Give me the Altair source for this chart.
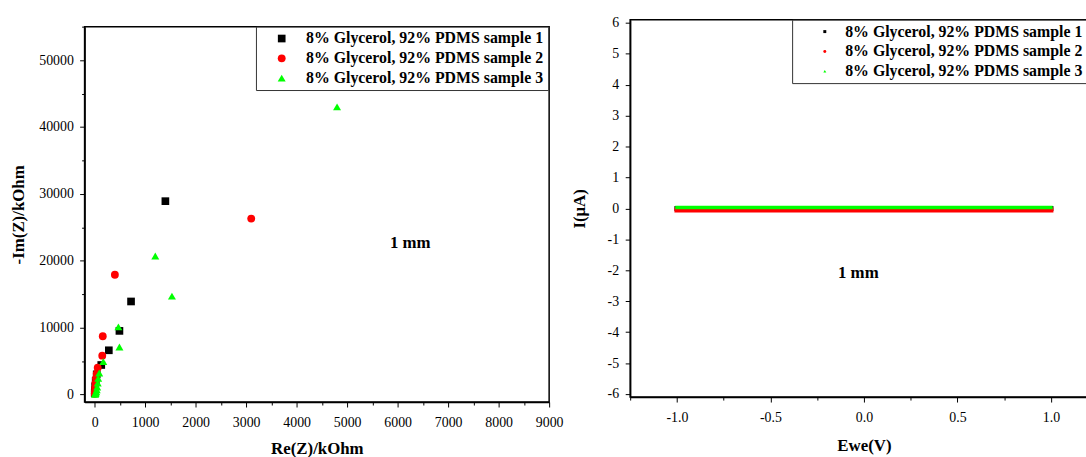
import altair as alt
import pandas as pd

SERIES = ["8% Glycerol, 92% PDMS sample 1",
          "8% Glycerol, 92% PDMS sample 2",
          "8% Glycerol, 92% PDMS sample 3"]
COLORS = ["#000000", "#FF0000", "#00FF00"]
SHAPES = ["square", "circle", "triangle-up"]
SIZES = [60, 65, 105]

# Nyquist data (kOhm)
re_s1 = [1400, 720, 490, 280, 130, 40, 20, 10, 4, 1]
im_s1 = [28900, 13900, 9500, 6600, 4400, 3000, 2000, 1200, 600, 200]
re_s2 = [3100, 400, 160, 150, 60, 40, 25, 15, 8, 3, 1]
im_s2 = [26300, 17900, 8700, 5800, 4000, 3100, 2400, 1700, 1000, 400, 100]
re_s3 = [4800, 1530, 1200, 490, 470, 170, 90, 70, 60, 50, 40, 30, 20, 10, 5]
im_s3 = [43000, 14700, 20700, 7100, 10100, 4900, 3200, 2400, 1700, 1100, 700, 400, 200, 80, 20]

# I-V data
ewe = [-1.0, -0.5, 0.0, 0.5, 1.0]
i_s1 = [0.0, 0.0, 0.0, 0.0, 0.0]
i_s2 = [-0.05, -0.05, -0.05, -0.05, -0.05]
i_s3 = [0.03, 0.03, 0.03, 0.03, 0.03]

x1_ticks = list(range(0, 9001, 500))
y1_ticks = list(range(0, 55001, 5000))
x2_ticks = [-1.25, -1.0, -0.75, -0.5, -0.25, 0.0, 0.25, 0.5, 0.75, 1.0, 1.25]
y2_ticks = [v / 2 for v in range(-12, 13)]

FONT = "Liberation Serif"

nyq = pd.concat([
    pd.DataFrame({"re": r, "im": i, "series": s})
    for r, i, s in [(re_s1, im_s1, SERIES[0]), (re_s2, im_s2, SERIES[1]), (re_s3, im_s3, SERIES[2])]
], ignore_index=True)

iv = pd.concat([
    pd.DataFrame({"ewe": ewe, "i": v, "sample": s})
    for v, s in [(i_s1, SERIES[0]), (i_s2, SERIES[1]), (i_s3, SERIES[2])]
], ignore_index=True)


def axis(title, values, major_test, fmt, pad, tpad):
    return alt.Axis(
        title=title, values=values, tickCount=200, grid=False,
        labelOverlap=False, labelFlush=False,
        labelExpr=f"({major_test}) ? replace(datum.label, '\u2212', '-') : ''",
        format=fmt,
        tickSize={"condition": {"test": major_test, "value": 5}, "value": 3},
        labelFontSize={"condition": {"test": major_test, "value": 14}, "value": 0},
        labelPadding=pad, titlePadding=tpad,
        labelFont=FONT, labelColor="black",
        titleFont=FONT, titleFontSize=17, titleFontWeight="bold", titleColor="black",
        domainColor="black", domainWidth=1.5, tickColor="black", tickWidth=1,
    )


left_legend = alt.Legend(
    title=None, orient="none", legendX=173, legendY=0, padding=4,
    strokeColor="#333333", fillColor="white",
    labelFont=FONT, labelFontSize=16, labelFontWeight="bold", labelColor="black",
    labelLimit=500, symbolSize=60, symbolOffset=14, labelOffset=16.5, rowPadding=4,
    symbolStrokeWidth=0,
)

pts = alt.Chart(nyq).mark_point(filled=True, opacity=1).encode(
    x=alt.X("re:Q", scale=alt.Scale(domain=[-200, 9000], nice=False, zero=False),
            axis=axis("Re(Z)/kOhm", x1_ticks, "datum.value % 1000 === 0", "d", 9, 11)),
    y=alt.Y("im:Q", scale=alt.Scale(domain=[-1140, 55000], nice=False, zero=False),
            axis=axis("-Im(Z)/kOhm", y1_ticks, "datum.value % 10000 === 0", "d", 6.3, 11.5)),
    color=alt.Color("series:N", scale=alt.Scale(domain=SERIES, range=COLORS), legend=left_legend),
    shape=alt.Shape("series:N", scale=alt.Scale(domain=SERIES, range=SHAPES), legend=left_legend),
    size=alt.Size("series:N", scale=alt.Scale(domain=SERIES, range=SIZES), legend=None),
)

note1 = alt.Chart(pd.DataFrame({"x": [6250], "y": [22700], "t": ["1 mm"]})).mark_text(
    font=FONT, fontSize=17, fontWeight="bold", color="black"
).encode(x="x:Q", y="y:Q", text="t:N")

left_panel = alt.layer(pts, note1).properties(width=469, height=379)

# empty strip that places the left panel a few pixels lower than the right one
strip = alt.Chart(pd.DataFrame({"a": [0]})).mark_rule(opacity=0, strokeWidth=0.1).encode(
    x=alt.value(1), y=alt.value(1), y2=alt.value(2)
).properties(width=469, height=4, view=alt.ViewBackground(stroke="transparent"))

left = alt.vconcat(strip, left_panel, spacing=0).resolve_scale(
    color="independent", shape="independent", size="independent"
).resolve_legend(color="independent", shape="independent")

right_legend = alt.Legend(
    title=None, orient="none", legendX=163.5, legendY=0, padding=4,
    strokeColor="#333333", fillColor="white",
    labelFont=FONT, labelFontSize=16, labelFontWeight="bold", labelColor="black",
    labelLimit=500, symbolSize=9, symbolOffset=21, labelOffset=12.6, rowPadding=4,
    symbolStrokeWidth=0,
)

xr = alt.X("ewe:Q", scale=alt.Scale(domain=[-1.25, 1.25], nice=False, zero=False),
           axis=axis("Ewe(V)", x2_ticks, "abs(datum.value*2 - round(datum.value*2)) < 1e-6", ".1f", 9, 13))
yr = alt.Y("i:Q", scale=alt.Scale(domain=[-6.1, 6.1], nice=False, zero=False),
           axis=axis("I(\u03bcA)", y2_ticks, "abs(datum.value - round(datum.value)) < 1e-6", "d", 6.6, 19))

iv_pts = alt.Chart(iv).mark_point(filled=True, size=9, opacity=1).encode(
    x=xr, y=yr,
    color=alt.Color("sample:N", scale=alt.Scale(domain=SERIES, range=COLORS), legend=right_legend),
    shape=alt.Shape("sample:N", scale=alt.Scale(domain=SERIES, range=SHAPES), legend=right_legend),
)

iv_lines = alt.Chart(iv).mark_line(strokeCap="square").encode(
    x=xr, y=yr,
    color=alt.Color("sample:N", scale=alt.Scale(domain=SERIES, range=COLORS), legend=None),
    strokeWidth=alt.condition(alt.datum.sample == SERIES[2], alt.value(3.5), alt.value(5)),
    detail="sample:N",
)

note2 = alt.Chart(pd.DataFrame({"x": [-0.03], "y": [-2.08], "t": ["1 mm"]})).mark_text(
    font=FONT, fontSize=17, fontWeight="bold", color="black"
).encode(x="x:Q", y="y:Q", text="t:N")

right = alt.layer(iv_pts, iv_lines, note2).properties(width=472, height=381)

chart = alt.hconcat(left, right, spacing=4.8).resolve_scale(
    color="independent", shape="independent"
).resolve_legend(color="independent", shape="independent").properties(
    padding={"left": 8.4, "top": 12.7, "right": -14, "bottom": 0},
    background="white",
).configure_view(stroke="black", strokeWidth=1.5)

chart.save("out.html", embed_options={"renderer": "svg", "actions": False})
